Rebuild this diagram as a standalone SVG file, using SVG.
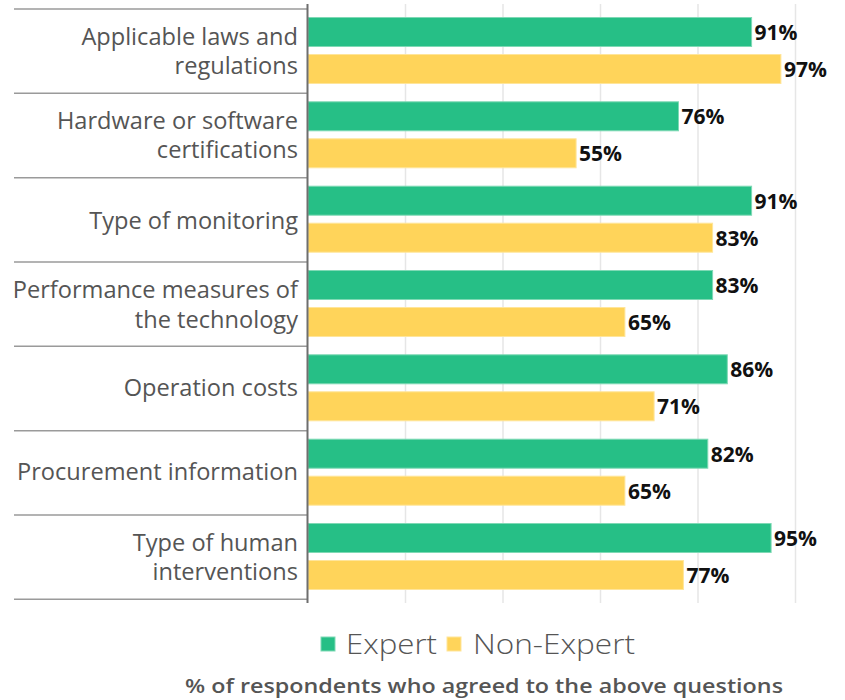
<svg xmlns="http://www.w3.org/2000/svg" width="845" height="700" viewBox="0 0 845 700">
<style>
.cat{font-family:"Open Sans","Noto Sans","Liberation Sans",sans-serif;font-size:23.6px;fill:#555;text-anchor:end}
.val{font-family:"Open Sans","Noto Sans","Liberation Sans",sans-serif;font-size:21px;font-weight:700;fill:#111}
.g{fill:#26bf86;stroke:#7fd9b5;stroke-width:1}
.y{fill:#ffd45a;stroke:#ffe59a;stroke-width:1}
.grid{stroke:#e6e6e6;stroke-width:1.5}
.sep{stroke:#9a9a9a;stroke-width:1.5}
.leg{font-family:"Open Sans","Noto Sans","Liberation Sans",sans-serif;font-size:27px;font-weight:300;fill:#555}
.foot{font-family:"Open Sans","Noto Sans","Liberation Sans",sans-serif;font-size:20.5px;font-weight:600;fill:#555}
</style>
<rect width="845" height="700" fill="#fff"/>
<g id="grid">
<line class="grid" x1="405.5" y1="4" x2="405.5" y2="603"/>
<line class="grid" x1="503" y1="4" x2="503" y2="603"/>
<line class="grid" x1="600.5" y1="4" x2="600.5" y2="603"/>
<line class="grid" x1="698" y1="4" x2="698" y2="603"/>
<line class="grid" x1="795.5" y1="4" x2="795.5" y2="603"/>
</g>
<g id="separators">
<line class="sep" x1="14" y1="9" x2="307" y2="9"/>
<line class="sep" x1="14" y1="93.3" x2="307" y2="93.3"/>
<line class="sep" x1="14" y1="177.7" x2="307" y2="177.7"/>
<line class="sep" x1="14" y1="262" x2="307" y2="262"/>
<line class="sep" x1="14" y1="346.3" x2="307" y2="346.3"/>
<line class="sep" x1="14" y1="430.7" x2="307" y2="430.7"/>
<line class="sep" x1="14" y1="515" x2="307" y2="515"/>
<line class="sep" x1="14" y1="599.3" x2="307" y2="599.3"/>
</g>
<g id="row1">
<text class="cat" x="298" y="45">Applicable laws and</text>
<text class="cat" x="298" y="74">regulations</text>
<rect class="g" x="308" y="17.5" width="443.6" height="29"/>
<rect class="y" x="308" y="54.5" width="472.9" height="29"/>
<text class="val" x="754.6" y="40">91%</text>
<text class="val" x="783.9" y="77">97%</text>
</g>
<g id="row2">
<text class="cat" x="298" y="129.2">Hardware or software</text>
<text class="cat" x="298" y="158.3">certifications</text>
<rect class="g" x="308" y="101.8" width="370.5" height="29"/>
<rect class="y" x="308" y="138.8" width="268.1" height="29"/>
<text class="val" x="681.5" y="124.3">76%</text>
<text class="val" x="579.1" y="161.3">55%</text>
</g>
<g id="row3">
<text class="cat" x="298" y="228.5">Type of monitoring</text>
<rect class="g" x="308" y="186.2" width="443.6" height="29"/>
<rect class="y" x="308" y="223.2" width="404.6" height="29"/>
<text class="val" x="754.6" y="208.7">91%</text>
<text class="val" x="715.6" y="245.7">83%</text>
</g>
<g id="row4">
<text class="cat" x="298" y="298">Performance measures of</text>
<text class="cat" x="298" y="327.5">the technology</text>
<rect class="g" x="308" y="270.5" width="404.6" height="29"/>
<rect class="y" x="308" y="307.5" width="316.9" height="29"/>
<text class="val" x="715.6" y="293">83%</text>
<text class="val" x="627.9" y="330">65%</text>
</g>
<g id="row5">
<text class="cat" x="298" y="396">Operation costs</text>
<rect class="g" x="308" y="354.8" width="419.3" height="29"/>
<rect class="y" x="308" y="391.8" width="346.1" height="29"/>
<text class="val" x="730.3" y="377.3">86%</text>
<text class="val" x="657.1" y="414.3">71%</text>
</g>
<g id="row6">
<text class="cat" x="298" y="480.3">Procurement information</text>
<rect class="g" x="308" y="439.2" width="399.8" height="29"/>
<rect class="y" x="308" y="476.2" width="316.9" height="29"/>
<text class="val" x="710.8" y="461.7">82%</text>
<text class="val" x="627.9" y="498.7">65%</text>
</g>
<g id="row7">
<text class="cat" x="298" y="550.7">Type of human</text>
<text class="cat" x="298" y="580">interventions</text>
<rect class="g" x="308" y="523.5" width="463.1" height="29"/>
<rect class="y" x="308" y="560.5" width="375.4" height="29"/>
<text class="val" x="774.1" y="546">95%</text>
<text class="val" x="686.4" y="583">77%</text>
</g>
<g id="axis">
<line x1="307.5" y1="4" x2="307.5" y2="603" stroke="#6e6e6e" stroke-width="2"/>
</g>
<g id="legend">
<rect x="321" y="637" width="14" height="14" class="g"/>
<text class="leg" x="346" y="654" textLength="91" lengthAdjust="spacingAndGlyphs">Expert</text>
<rect x="447" y="637" width="14" height="14" class="y"/>
<text class="leg" x="473" y="654" textLength="162" lengthAdjust="spacingAndGlyphs">Non-Expert</text>
</g>
<g id="footer">
<text class="foot" x="185" y="693" textLength="598" lengthAdjust="spacingAndGlyphs">% of respondents who agreed to the above questions</text>
</g>
</svg>
